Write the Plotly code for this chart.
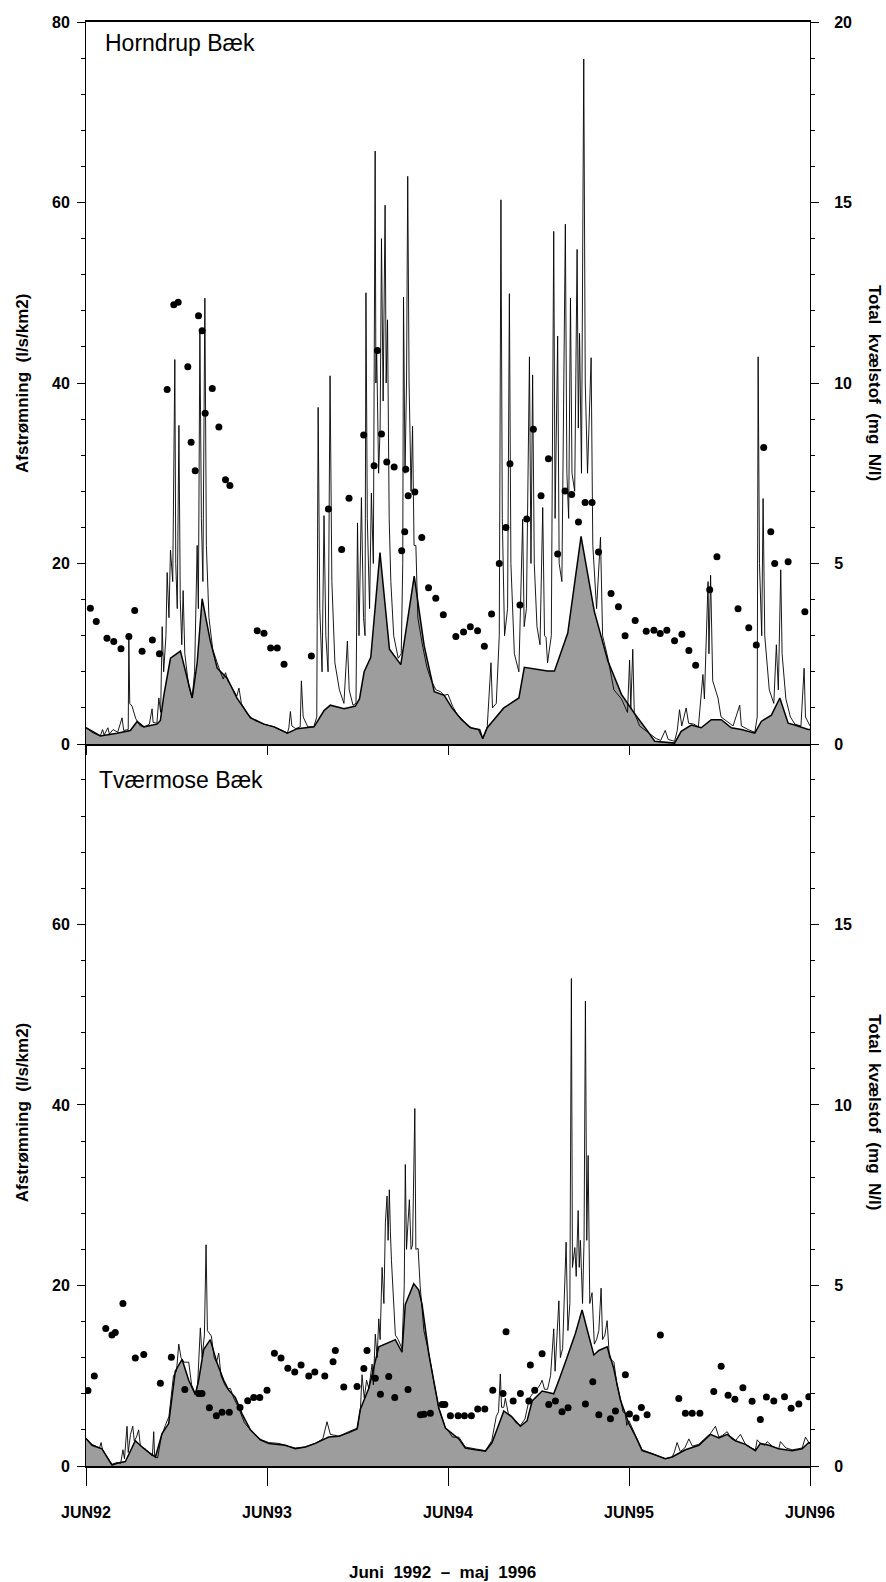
import plotly.graph_objects as go

# x = months after 1 June 1992 ; discharge in l/s/km2 ; total N in mg N/l
MONTH_TICKS = [0, 12, 24, 36, 48]
MONTH_LABELS = ["JUN92", "JUN93", "JUN94", "JUN95", "JUN96"]

# ---------------- Horndrup Bæk ----------------
horndrup_base = [
    (0.0, 1.8), (0.95, 0.9), (2.06, 1.2), (2.94, 1.5), (3.39, 2.5), (3.83, 1.9), (4.71, 2.2),
    (4.93, 2.6), (5.16, 5.4), (5.6, 9.5), (6.26, 10.3), (7.04, 5.1), (7.37, 9.0), (7.7, 16.1),
    (8.23, 11.5), (8.7, 8.4), (9.36, 7.3), (10.0, 5.1), (10.91, 2.9), (11.8, 2.2), (12.46, 1.9),
    (13.35, 1.2), (14.0, 1.7), (15.12, 1.9), (15.78, 3.7), (16.2, 4.3), (17.11, 3.9), (17.86, 4.2),
    (18.13, 5.0), (18.44, 8.0), (18.88, 9.6), (19.49, 21.2), (20.12, 10.5), (20.87, 8.8),
    (21.76, 18.6), (22.42, 10.9), (23.09, 5.8), (23.75, 5.4), (24.26, 4.0), (24.9, 2.7),
    (25.5, 1.8), (26.1, 1.6), (26.3, 0.6), (26.6, 1.8), (27.7, 4.0), (28.7, 5.1), (29.06, 8.5),
    (30.6, 8.1), (31.06, 8.1), (31.94, 12.3), (32.82, 23.0), (33.7, 14.7), (34.6, 9.2),
    (35.5, 5.5), (36.4, 3.3), (37.25, 1.4), (37.7, 0.3), (39.02, 0.1), (39.46, 1.4), (40.13, 2.1),
    (40.79, 1.8), (41.45, 2.7), (42.12, 2.7), (42.78, 1.8), (43.45, 1.6), (44.34, 1.2),
    (44.77, 2.5), (45.44, 3.2), (46.0, 5.1), (46.55, 2.3), (46.99, 2.1), (47.88, 1.6), (48.0, 1.6),
]

horndrup_flow = [
    (0.0, 1.8), (0.5, 1.2), (0.95, 0.9), (1.1, 1.6), (1.2, 1.0), (1.45, 1.8), (1.55, 1.1),
    (1.8, 1.6), (2.1, 1.3), (2.39, 2.9), (2.5, 1.5), (2.8, 1.6), (2.84, 11.9), (2.9, 4.5),
    (3.05, 4.2), (3.3, 2.8), (3.6, 2.0), (3.9, 1.9), (4.2, 2.2), (4.38, 3.9), (4.45, 2.4),
    (4.7, 2.3), (4.83, 5.1), (4.95, 3.5), (5.05, 13.0), (5.15, 8.0), (5.3, 12.0), (5.38, 19.0),
    (5.5, 14.0), (5.6, 21.5), (5.75, 18.0), (5.89, 42.6), (5.95, 20.0), (6.05, 15.0),
    (6.16, 35.3), (6.25, 16.0), (6.35, 11.0), (6.44, 17.0), (6.55, 10.0), (6.8, 6.5),
    (7.04, 5.1), (7.2, 8.0), (7.37, 22.0), (7.45, 15.0), (7.55, 45.8), (7.65, 25.0),
    (7.75, 18.0), (7.88, 49.4), (7.98, 22.0), (8.15, 14.0), (8.4, 10.5), (8.7, 9.0), (8.9, 8.0),
    (9.1, 7.2), (9.25, 7.9), (9.4, 7.0), (9.7, 6.2), (10.0, 5.3), (10.14, 6.2), (10.3, 4.5),
    (10.7, 3.3), (11.2, 2.6), (11.8, 2.2), (12.5, 1.9), (13.0, 1.5), (13.35, 1.2), (13.45, 1.8),
    (13.55, 3.6), (13.65, 2.0), (13.9, 1.7), (14.2, 1.9), (14.28, 7.0), (14.4, 3.0), (14.7, 1.9),
    (15.1, 1.9), (15.3, 3.0), (15.39, 37.3), (15.5, 15.0), (15.65, 8.0), (15.78, 25.3),
    (15.9, 12.0), (16.05, 8.0), (16.18, 40.8), (16.3, 18.0), (16.5, 9.0), (16.8, 6.0),
    (17.1, 4.5), (17.33, 11.4), (17.45, 6.0), (17.7, 4.3), (17.9, 4.5), (18.0, 24.5),
    (18.1, 12.0), (18.26, 27.3), (18.4, 14.0), (18.5, 12.0), (18.56, 50.0), (18.65, 25.0),
    (18.8, 15.0), (18.92, 27.8), (19.05, 20.0), (19.17, 65.7), (19.22, 40.0), (19.27, 43.8),
    (19.4, 30.0), (19.5, 35.0), (19.59, 56.0), (19.7, 38.0), (19.83, 59.7), (19.9, 40.0),
    (19.99, 47.0), (20.1, 25.0), (20.21, 18.0), (20.4, 12.0), (20.7, 9.5), (20.9, 10.0),
    (21.0, 20.0), (21.05, 49.5), (21.15, 30.0), (21.25, 40.0), (21.33, 62.9), (21.42, 40.0),
    (21.55, 28.0), (21.65, 35.2), (21.75, 22.0), (21.87, 22.0), (22.0, 14.0), (22.3, 11.0),
    (22.6, 8.5), (22.9, 7.0), (23.2, 6.0), (23.5, 5.8), (23.75, 5.4), (24.0, 5.5), (24.3, 4.2),
    (24.6, 3.3), (24.9, 2.8), (25.3, 2.0), (25.7, 1.7), (26.0, 1.6), (26.3, 0.6), (26.6, 1.9),
    (26.85, 9.0), (26.95, 4.0), (27.2, 4.5), (27.4, 12.0), (27.51, 60.3), (27.6, 25.0),
    (27.75, 12.0), (27.95, 15.0), (28.07, 49.9), (28.17, 20.0), (28.4, 10.0), (28.7, 8.0),
    (28.95, 24.9), (29.05, 13.0), (29.2, 15.0), (29.4, 42.9), (29.5, 20.0), (29.61, 40.9),
    (29.72, 20.0), (29.9, 13.0), (30.1, 11.0), (30.28, 26.2), (30.4, 12.0), (30.5, 11.8),
    (30.6, 9.0), (30.85, 12.0), (31.01, 56.8), (31.1, 25.0), (31.27, 45.2), (31.37, 20.0),
    (31.55, 18.0), (31.78, 57.6), (31.88, 30.0), (32.0, 25.0), (32.12, 49.4), (32.22, 30.0),
    (32.4, 28.0), (32.56, 54.8), (32.64, 35.0), (32.72, 45.5), (32.85, 30.0), (33.0, 75.9),
    (33.1, 40.0), (33.25, 30.0), (33.49, 42.8), (33.6, 22.0), (33.85, 15.0), (34.11, 22.9),
    (34.25, 12.0), (34.6, 9.5), (35.0, 6.0), (35.5, 5.0), (35.9, 3.5), (36.04, 9.3), (36.12, 4.0),
    (36.25, 10.5), (36.35, 3.5), (36.7, 2.0), (37.25, 1.3), (37.8, 0.6), (38.1, 0.4), (38.4, 1.5),
    (38.6, 0.5), (39.02, 0.3), (39.2, 1.5), (39.35, 3.8), (39.5, 2.0), (39.79, 4.0), (39.95, 2.3),
    (40.3, 2.2), (40.6, 1.9), (40.9, 7.7), (41.0, 5.0), (41.24, 18.0), (41.3, 10.0),
    (41.41, 18.7), (41.55, 7.0), (41.9, 5.1), (42.1, 3.0), (42.5, 2.5), (42.9, 2.0), (43.34, 4.3),
    (43.45, 2.0), (43.9, 1.6), (44.34, 1.3), (44.5, 3.0), (44.56, 42.9), (44.65, 20.0),
    (44.8, 12.0), (44.89, 27.2), (45.0, 12.0), (45.3, 6.0), (45.6, 4.5), (45.77, 11.0),
    (45.9, 6.0), (46.06, 19.3), (46.15, 10.0), (46.4, 5.0), (46.7, 3.0), (47.0, 2.2), (47.4, 2.0),
    (47.61, 8.4), (47.7, 3.0), (48.0, 2.0),
]

horndrup_n = [
    (0.29, 3.76), (0.68, 3.39), (1.39, 2.93), (1.84, 2.84), (2.32, 2.64), (2.84, 2.98),
    (3.23, 3.70), (3.72, 2.57), (4.4, 2.88), (4.87, 2.50), (5.38, 9.82), (5.82, 12.17),
    (6.11, 12.24), (6.75, 10.45), (6.97, 8.36), (7.24, 7.57), (7.46, 11.86), (7.7, 11.45),
    (7.9, 9.16), (8.37, 9.85), (8.81, 8.78), (9.25, 7.32), (9.54, 7.16), (11.35, 3.14),
    (11.8, 3.07), (12.24, 2.66), (12.68, 2.66), (13.13, 2.21), (14.94, 2.44), (16.07, 6.51),
    (16.95, 5.39), (17.44, 6.81), (18.41, 8.56), (19.1, 7.71), (19.32, 10.9), (19.59, 8.59),
    (19.94, 7.81), (20.43, 7.67), (20.93, 5.35), (21.13, 5.88), (21.2, 7.61), (21.36, 6.88),
    (21.8, 6.98), (22.26, 5.72), (22.71, 4.33), (23.19, 4.04), (23.69, 3.58), (24.52, 2.98),
    (25.03, 3.10), (25.48, 3.25), (25.96, 3.14), (26.41, 2.71), (26.89, 3.60), (27.4, 5.00),
    (27.84, 6.00), (28.11, 7.76), (28.77, 3.85), (29.22, 6.23), (29.66, 8.72), (30.17, 6.88),
    (30.66, 7.90), (31.27, 5.26), (31.76, 7.01), (32.2, 6.91), (32.65, 6.15), (33.09, 6.69),
    (33.55, 6.69), (33.98, 5.32), (34.81, 4.17), (35.3, 3.80), (35.74, 3.00), (36.41, 3.42),
    (37.14, 3.12), (37.65, 3.15), (38.07, 3.06), (38.51, 3.15), (39.02, 2.86), (39.51, 3.04),
    (39.97, 2.59), (40.42, 2.18), (41.35, 4.27), (41.83, 5.19), (43.23, 3.75), (43.94, 3.22),
    (44.44, 2.74), (44.93, 8.21), (45.4, 5.88), (45.66, 5.00), (46.55, 5.05), (47.66, 3.66),
]

# ---------------- Tværmose Bæk ----------------
tvaermose_base = [
    (0.0, 3.05), (0.4, 2.3), (1.06, 1.9), (1.72, 0.1), (2.06, 0.3), (2.61, 0.5), (3.27, 2.8),
    (3.71, 2.1), (4.16, 1.5), (4.6, 1.0), (5.04, 3.6), (5.48, 4.7), (5.92, 10.5), (6.37, 11.8),
    (6.81, 9.5), (7.25, 7.9), (7.47, 9.5), (7.8, 12.9), (8.24, 14.0), (8.69, 11.4), (9.13, 9.5),
    (9.46, 8.4), (9.9, 7.6), (10.34, 5.8), (10.9, 4.0), (11.56, 2.9), (12.12, 2.5), (13.22, 2.3),
    (13.88, 1.9), (14.54, 2.1), (15.2, 2.5), (16.09, 3.2), (16.76, 3.3), (17.42, 3.7),
    (17.97, 4.1), (18.19, 6.3), (18.75, 8.6), (19.41, 13.2), (20.51, 14.0), (20.95, 12.6),
    (21.17, 17.9), (21.73, 20.2), (22.06, 19.5), (22.28, 17.9), (22.73, 12.4), (23.39, 6.4),
    (23.83, 4.2), (24.72, 3.0), (25.15, 2.0), (25.82, 1.8), (26.48, 1.65), (26.92, 2.6),
    (27.37, 4.6), (27.7, 6.1), (28.25, 5.4), (28.8, 4.4), (29.24, 5.0), (29.58, 7.2),
    (30.24, 8.3), (31.01, 8.0), (31.35, 9.5), (31.78, 11.5), (32.45, 14.7), (32.89, 17.3),
    (33.29, 14.7), (33.67, 12.3), (34.0, 12.8), (34.55, 13.2), (34.99, 10.8), (35.43, 7.3),
    (35.99, 4.7), (36.43, 3.3), (36.87, 1.7), (37.53, 1.35), (38.41, 0.8), (38.86, 1.0),
    (39.74, 1.8), (40.63, 2.3), (41.4, 3.5), (41.96, 3.1), (42.51, 3.5), (43.06, 2.8),
    (43.72, 2.4), (44.38, 1.7), (44.71, 2.5), (45.27, 2.3), (45.93, 1.9), (46.82, 1.7),
    (47.48, 1.9), (47.92, 2.6), (48.0, 2.5),
]

tvaermose_flow = [
    (0.0, 3.05), (0.4, 2.4), (0.9, 2.0), (1.0, 2.6), (1.1, 1.8), (1.72, 0.2), (2.1, 0.4),
    (2.3, 0.3), (2.45, 1.8), (2.55, 0.8), (2.72, 4.4), (2.8, 1.5), (2.95, 3.5), (3.1, 4.4),
    (3.2, 2.8), (3.35, 3.2), (3.49, 4.0), (3.6, 2.3), (4.0, 1.8), (4.4, 1.1), (4.49, 3.8),
    (4.55, 1.0), (4.75, 0.9), (5.0, 3.3), (5.26, 4.5), (5.5, 5.5), (5.8, 10.0), (6.0, 10.5),
    (6.15, 13.5), (6.3, 12.0), (6.5, 11.5), (6.81, 11.5), (7.0, 9.0), (7.25, 8.0), (7.4, 9.0),
    (7.58, 15.3), (7.7, 12.0), (7.85, 14.5), (7.96, 24.5), (8.05, 15.0), (8.31, 14.4),
    (8.5, 12.0), (8.65, 11.5), (8.8, 12.5), (8.95, 10.0), (9.2, 9.0), (9.4, 8.5), (9.57, 8.6),
    (9.8, 7.5), (10.1, 6.5), (10.5, 4.8), (10.9, 4.0), (11.5, 3.0), (12.1, 2.6), (12.8, 2.5),
    (13.4, 2.2), (13.9, 2.0), (14.5, 2.1), (15.2, 2.5), (15.7, 3.0), (15.98, 4.9), (16.2, 3.5),
    (16.8, 3.3), (17.4, 3.8), (18.0, 4.2), (18.2, 6.5), (18.3, 10.1), (18.45, 7.5), (18.6, 9.5),
    (18.75, 8.6), (18.97, 11.3), (19.05, 9.0), (19.18, 14.6), (19.3, 12.0), (19.41, 16.3),
    (19.5, 14.0), (19.63, 22.0), (19.75, 18.0), (19.85, 27.0), (19.96, 29.9), (20.03, 25.0),
    (20.11, 30.6), (20.18, 26.0), (20.25, 22.8), (20.51, 14.5), (20.7, 14.0), (20.95, 13.0),
    (21.1, 20.0), (21.17, 33.4), (21.25, 24.0), (21.35, 27.0), (21.44, 29.5), (21.55, 24.0),
    (21.65, 24.5), (21.8, 39.6), (21.87, 24.0), (22.02, 24.1), (22.15, 20.0), (22.4, 15.0),
    (22.73, 12.5), (23.1, 9.0), (23.4, 6.4), (23.83, 4.2), (24.05, 3.8), (24.3, 3.2),
    (24.72, 3.2), (25.15, 2.1), (25.8, 1.9), (26.48, 1.7), (26.9, 2.8), (27.2, 5.5), (27.35, 6.0),
    (27.47, 10.2), (27.55, 6.5), (27.7, 6.5), (27.8, 7.5), (28.0, 5.8), (28.25, 5.5), (28.5, 4.8),
    (28.8, 4.5), (29.1, 5.2), (29.4, 7.5), (29.6, 8.0), (29.9, 8.5), (30.1, 9.0), (30.24, 9.5),
    (30.4, 8.5), (30.6, 8.5), (30.8, 10.0), (31.01, 15.2), (31.1, 10.5), (31.35, 18.3),
    (31.45, 12.0), (31.6, 13.0), (31.83, 24.8), (31.95, 15.0), (32.08, 18.0), (32.18, 54.0),
    (32.25, 22.0), (32.41, 24.2), (32.5, 21.0), (32.63, 28.3), (32.7, 22.0), (32.78, 25.0),
    (32.92, 18.0), (33.02, 25.0), (33.11, 51.5), (33.2, 25.0), (33.29, 34.4), (33.4, 18.0),
    (33.55, 19.2), (33.7, 13.5), (33.85, 14.0), (34.0, 15.0), (34.15, 19.7), (34.25, 14.0),
    (34.4, 14.5), (34.55, 16.1), (34.7, 12.0), (35.0, 11.5), (35.2, 9.0), (35.43, 7.5),
    (35.6, 6.0), (35.76, 5.8), (35.85, 4.5), (36.0, 5.0), (36.43, 3.4), (36.87, 1.8),
    (37.5, 1.4), (38.4, 0.8), (38.86, 1.0), (39.0, 1.5), (39.19, 2.6), (39.4, 1.6), (39.7, 2.0),
    (39.97, 3.0), (40.2, 2.2), (40.63, 2.4), (41.0, 3.0), (41.4, 3.6), (41.73, 4.4), (41.96, 3.2),
    (42.2, 3.4), (42.51, 3.8), (42.8, 3.0), (43.06, 2.8), (43.39, 3.5), (43.72, 2.4), (44.1, 2.0),
    (44.38, 1.8), (44.5, 2.9), (44.71, 2.5), (45.0, 2.3), (45.16, 2.7), (45.5, 2.2), (45.93, 1.9),
    (46.04, 2.7), (46.4, 2.0), (46.82, 1.8), (47.2, 1.9), (47.48, 2.0), (47.7, 3.2), (47.92, 2.6),
    (48.0, 2.5),
]

tvaermose_n = [
    (0.13, 2.09), (0.55, 2.49), (1.31, 3.81), (1.72, 3.63), (1.94, 3.70), (2.45, 4.50),
    (3.27, 2.99), (3.83, 3.09), (4.93, 2.29), (5.66, 3.01), (6.55, 2.12), (7.47, 2.01),
    (7.69, 2.01), (8.18, 1.61), (8.64, 1.39), (9.02, 1.49), (9.5, 1.49), (10.21, 1.62),
    (10.72, 1.81), (11.12, 1.90), (11.52, 1.90), (12.0, 2.10), (12.49, 3.12), (12.93, 2.99),
    (13.38, 2.71), (13.84, 2.60), (14.26, 2.80), (14.77, 2.49), (15.17, 2.60), (15.83, 2.49),
    (16.38, 2.89), (16.53, 3.20), (17.09, 2.19), (17.97, 2.20), (18.42, 2.70), (18.63, 3.20),
    (19.18, 2.43), (19.52, 1.99), (20.07, 2.48), (20.47, 1.90), (21.35, 2.12), (22.17, 1.42),
    (22.41, 1.43), (22.83, 1.46), (23.61, 1.70), (23.79, 1.70), (24.16, 1.39), (24.67, 1.39),
    (25.09, 1.39), (25.55, 1.39), (25.97, 1.58), (26.44, 1.58), (26.97, 2.10), (27.65, 2.01),
    (27.85, 3.72), (28.32, 1.80), (28.8, 2.01), (29.36, 1.80), (29.46, 2.80), (29.75, 2.10),
    (30.24, 3.11), (30.68, 1.70), (31.12, 1.80), (31.56, 1.50), (31.96, 1.61), (33.11, 1.72),
    (33.6, 2.33), (34.0, 1.42), (34.77, 1.31), (35.1, 1.52), (35.76, 2.53), (36.03, 1.44),
    (36.47, 1.33), (36.82, 1.62), (37.2, 1.42), (38.08, 3.63), (39.3, 1.87), (39.74, 1.46),
    (40.19, 1.46), (40.7, 1.46), (41.62, 2.06), (42.11, 2.76), (42.57, 1.96), (43.02, 1.85),
    (43.55, 2.17), (44.16, 1.79), (44.71, 1.29), (45.11, 1.91), (45.6, 1.80), (46.31, 1.92),
    (46.75, 1.60), (47.26, 1.72), (47.92, 1.92),
]


def xs(pairs):
    return [p[0] for p in pairs]


def ys(pairs):
    return [p[1] for p in pairs]


FONT = "Liberation Sans, Arial, Helvetica, sans-serif"
FILL = "#9d9d9d"

fig = go.Figure()

panels = [
    (horndrup_base, horndrup_flow, horndrup_n, "x", "y", "y2"),
    (tvaermose_base, tvaermose_flow, tvaermose_n, "x2", "y3", "y4"),
]
for base, flow, conc, xa, ya, yb in panels:
    fig.add_trace(go.Scatter(
        x=xs(base), y=ys(base), xaxis=xa, yaxis=ya, mode="lines",
        fill="tozeroy", fillcolor=FILL,
        line=dict(color="black", width=1.5, simplify=False), hoverinfo="skip"))
    fig.add_trace(go.Scatter(
        x=xs(flow), y=ys(flow), xaxis=xa, yaxis=ya, mode="lines",
        line=dict(color="black", width=0.9, simplify=False), hoverinfo="skip"))
    fig.add_trace(go.Scatter(
        x=xs(conc), y=ys(conc), xaxis=xa, yaxis=yb, mode="markers",
        marker=dict(color="black", size=7, line=dict(width=0)), hoverinfo="skip"))

tickfont = dict(family=FONT, size=16, color="black", weight="bold")

common_y = dict(
    showgrid=False, zeroline=False, showline=True, linecolor="black", linewidth=1,
    ticks="outside", ticklen=8, tickwidth=1, tickcolor="black", tickfont=tickfont,
    fixedrange=True,
)

fig.update_layout(
    width=886, height=1582,
    margin=dict(l=86, r=76, t=22, b=116),
    paper_bgcolor="white", plot_bgcolor="white",
    showlegend=False,
    xaxis=dict(
        domain=[0, 1], anchor="y", range=[0, 48],
        tickmode="array", tickvals=MONTH_TICKS, showticklabels=False,
        ticks="outside", ticklen=9, tickwidth=1.2, tickcolor="black",
        showline=True, linecolor="black", linewidth=2, mirror=True,
        showgrid=False, zeroline=False,
    ),
    xaxis2=dict(
        domain=[0, 1], anchor="y3", range=[0, 48],
        tickmode="array", tickvals=MONTH_TICKS, ticktext=MONTH_LABELS,
        ticks="outside", ticklen=18, tickwidth=1.2, tickcolor="black",
        ticklabelstandoff=13, tickfont=tickfont,
        showline=True, linecolor="black", linewidth=2.2,
        showgrid=False, zeroline=False,
    ),
    yaxis=dict(
        domain=[0.5, 1], anchor="x", range=[0, 80], tickmode="linear", tick0=0, dtick=20,
        minor=dict(dtick=4, ticklen=4, ticks="outside", tickcolor="black", showgrid=False),
        ticklabelstandoff=4, **common_y,
    ),
    yaxis2=dict(
        overlaying="y", side="right", anchor="x", range=[0, 20], tickmode="linear",
        tick0=0, dtick=5,
        minor=dict(dtick=1, ticklen=4, ticks="outside", tickcolor="black", showgrid=False),
        ticklabelstandoff=12, **common_y,
    ),
    yaxis3=dict(
        domain=[0, 0.5], anchor="x2", range=[0, 79.98], tickmode="linear", tick0=0, dtick=20,
        minor=dict(dtick=4, ticklen=4, ticks="outside", tickcolor="black", showgrid=False),
        ticklabelstandoff=4, **common_y,
    ),
    yaxis4=dict(
        overlaying="y3", side="right", anchor="x2", range=[0, 19.995], tickmode="linear",
        tick0=0, dtick=5,
        minor=dict(dtick=1, ticklen=4, ticks="outside", tickcolor="black", showgrid=False),
        ticklabelstandoff=12, **common_y,
    ),
)

title_font = dict(family=FONT, size=17, color="black")
left_title = "<b>Afstrømning  (l/s/km2)</b>"
right_title = "<b>Total  kvælstof  (mg  N/l)</b>"

annotations = [
    dict(text="Horndrup Bæk", x=0.0235, y=0.9855, xanchor="left", yanchor="middle",
         font=dict(family=FONT, size=23, color="black")),
    dict(text="Tværmose Bæk", x=0.0152, y=0.475, xanchor="left", yanchor="middle",
         font=dict(family=FONT, size=23, color="black")),
    dict(text=left_title, x=-0.0884, y=0.75, textangle=-90, xanchor="center",
         yanchor="middle", font=title_font),
    dict(text=left_title, x=-0.0884, y=0.245, textangle=-90, xanchor="center",
         yanchor="middle", font=title_font),
    dict(text=right_title, x=1.0898, y=0.75, textangle=90, xanchor="center",
         yanchor="middle", font=title_font),
    dict(text=right_title, x=1.0898, y=0.245, textangle=90, xanchor="center",
         yanchor="middle", font=title_font),
    dict(text="<b>Juni  1992  –  maj  1996</b>", x=0.492, y=-0.0735, xanchor="center",
         yanchor="middle", font=title_font),
]
for a in annotations:
    a.update(xref="paper", yref="paper", showarrow=False)
fig.update_layout(annotations=annotations)

fig.write_html("out.html", include_plotlyjs=True, config={"displayModeBar": False})
